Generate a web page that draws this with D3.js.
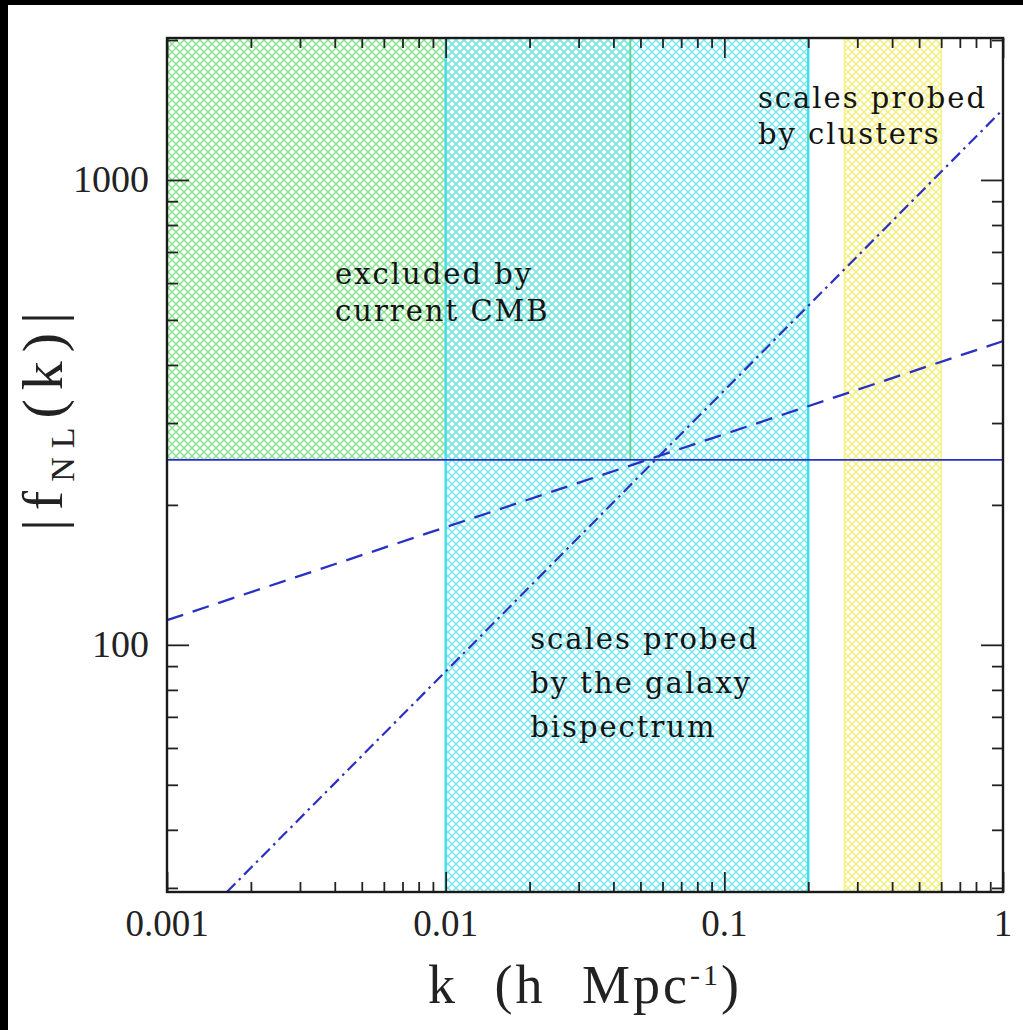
<!DOCTYPE html>
<html>
<head>
<meta charset="utf-8">
<script src="https://cdn.jsdelivr.net/npm/d3@7/dist/d3.min.js"></script>
<style>
  html, body { margin: 0; padding: 0; background: #fff; }
  svg { display: block; }
</style>
</head>
<body>
<svg id="chart" width="1023" height="1030"></svg>
<script>
// ---------------- data ----------------
const xTickValues = [0.001, 0.01, 0.1, 1];
const xTickLabels = ["0.001", "0.01", "0.1", "1"];
const yTickValues = [100, 1000];
const yTickLabels = ["100", "1000"];
const xDomain = [0.001, 1];
const yDomain = [29.4, 2020];

// shaded regions
const regionNames = ["cmb", "galaxy", "clusters"];
const regionKmin = [0.001, 0.01, 0.27];
const regionKmax = [0.046, 0.2, 0.6];
const regionFmin = [250, 29.4, 29.4];
const regionFmax = [2020, 2020, 2020];

// lines (straight in log-log, read as end points)
const lineNames = ["constant", "dashed", "dashdot"];
const lineK = [[0.001, 1], [0.001, 1], [0.00164, 1]];
const lineF = [[250, 250], [113, 450], [29.4, 1418]];

// annotations (first-line anchor in data coordinates)
const annotationLines = [
  ["excluded by", "current CMB"],
  ["scales probed", "by the galaxy", "bispectrum"],
  ["scales probed", "by clusters"]
];
const annotationK = [0.00401, 0.0201, 0.132];
const annotationF = [597, 98, 1428];

// ---------------- layout ----------------
const svg = d3.select("#chart");
const W = 1023, H = 1030;
const m = { left: 167, right: 1003, top: 38, bottom: 892 };

svg.append("rect").attr("width", W).attr("height", H).attr("fill", "#fff");
// dark border strips of the original picture
svg.append("rect").attr("x", 0).attr("y", 0).attr("width", W).attr("height", 5).attr("fill", "#000");
svg.append("rect").attr("x", 0).attr("y", 0).attr("width", 8).attr("height", H).attr("fill", "#000");

const x = d3.scaleLog().domain(xDomain).range([m.left, m.right]);
const y = d3.scaleLog().domain(yDomain).range([m.bottom, m.top]);

// ---------------- hatch patterns ----------------
const defs = svg.append("defs");
const hatchColors = { cmb: "#84e28a", galaxy: "#74e6ee", clusters: "#f3ef74" };
const edgeColors = { cmb: "#5cd78a", galaxy: "#40e0ea", clusters: "#f6f290" };
regionNames.forEach(n => {
  const s = 8;
  const p = defs.append("pattern")
    .attr("id", "hatch-" + n)
    .attr("patternUnits", "userSpaceOnUse")
    .attr("width", s).attr("height", s);
  p.append("path")
    .attr("d", `M0,0L${s},${s}M${s},0L0,${s}M${-s/2},${s/2}L${s/2},${s*1.5}M${s/2},${-s/2}L${s*1.5},${s/2}M${-s/2},${s/2}L${s/2},${-s/2}M${s/2},${s*1.5}L${s*1.5},${s/2}`)
    .attr("stroke", hatchColors[n])
    .attr("stroke-width", 1.4)
    .attr("fill", "none");
});

const gRegions = svg.append("g");
regionNames.forEach((n, i) => {
  const x0 = x(regionKmin[i]), x1 = x(regionKmax[i]);
  const y0 = y(regionFmax[i]), y1 = y(regionFmin[i]);
  gRegions.append("rect")
    .attr("x", x0).attr("y", y0)
    .attr("width", x1 - x0).attr("height", y1 - y0)
    .attr("fill", `url(#hatch-${n})`)
    .attr("stroke", "none");
});
// region edges
regionNames.forEach((n, i) => {
  const x0 = x(regionKmin[i]), x1 = x(regionKmax[i]);
  const y0 = y(regionFmax[i]), y1 = y(regionFmin[i]);
  [x0, x1].forEach(xx => {
    if (xx <= m.left + 1 || xx >= m.right - 1) return;
    gRegions.append("line")
      .attr("x1", xx).attr("x2", xx).attr("y1", y0).attr("y2", y1)
      .attr("stroke", edgeColors[n])
      .attr("stroke-width", n === "galaxy" ? 2.4 : 1.8);
  });
});

// ---------------- lines ----------------
const lineStyles = {
  constant: { dash: null, w: 1.8 },
  dashed: { dash: "17,10", w: 2.3 },
  dashdot: { dash: "12,5,2.5,5", w: 2.2 }
};
const lineGen = d3.line().x(d => x(d[0])).y(d => y(d[1]));
const gLines = svg.append("g");
lineNames.forEach((n, i) => {
  const pts = lineK[i].map((k, j) => [k, lineF[i][j]]);
  const st = lineStyles[n];
  gLines.append("path")
    .attr("d", lineGen(pts))
    .attr("fill", "none")
    .attr("stroke", "#2a30c4")
    .attr("stroke-width", st.w)
    .attr("stroke-dasharray", st.dash);
});

// ---------------- axes (ticks inward on all four sides) ----------------
const xMinor = [];
for (let d = 0.001; d < 1; d *= 10) for (let j = 2; j <= 9; j++) xMinor.push(+(d * j).toPrecision(3));
const yMinor = [];
[10, 100, 1000].forEach(d => { for (let j = 2; j <= 9; j++) { const v = d * j; if (v > yDomain[0] && v < yDomain[1]) yMinor.push(v); } });

const tickColor = "#222";
function addAxis(axisFn, scale, tickVals, size, transform) {
  svg.append("g")
    .attr("transform", transform)
    .call(axisFn(scale).tickValues(tickVals).tickSizeInner(size).tickSizeOuter(0).tickFormat(""))
    .call(g => g.select(".domain").remove())
    .call(g => g.selectAll(".tick line").attr("stroke", tickColor).attr("stroke-width", 1.8));
}
addAxis(d3.axisTop, x, xTickValues, 20, `translate(0,${m.bottom})`);
addAxis(d3.axisTop, x, xMinor, 10, `translate(0,${m.bottom})`);
addAxis(d3.axisBottom, x, xTickValues, 20, `translate(0,${m.top})`);
addAxis(d3.axisBottom, x, xMinor, 10, `translate(0,${m.top})`);
addAxis(d3.axisRight, y, yTickValues, 22, `translate(${m.left},0)`);
addAxis(d3.axisRight, y, yMinor, 11, `translate(${m.left},0)`);
addAxis(d3.axisLeft, y, yTickValues, 22, `translate(${m.right},0)`);
addAxis(d3.axisLeft, y, yMinor, 11, `translate(${m.right},0)`);

// frame
svg.append("rect")
  .attr("x", m.left).attr("y", m.top)
  .attr("width", m.right - m.left).attr("height", m.bottom - m.top)
  .attr("fill", "none").attr("stroke", "#1a1a1a").attr("stroke-width", 2.4);

// tick labels
const labelFont = "'Liberation Serif', 'DejaVu Serif', serif";
svg.append("g").selectAll("text").data(xTickValues).join("text")
  .attr("x", d => x(d)).attr("y", m.bottom + 44)
  .attr("text-anchor", "middle")
  .attr("font-family", labelFont).attr("font-size", 37)
  .attr("fill", "#222")
  .text((d, i) => xTickLabels[i]);
svg.append("g").selectAll("text").data(yTickValues).join("text")
  .attr("x", m.left - 18).attr("y", d => y(d) + 12)
  .attr("text-anchor", "end")
  .attr("font-family", labelFont).attr("font-size", 38)
  .attr("fill", "#222")
  .text((d, i) => yTickLabels[i]);

// axis titles
const titleFont = "'Liberation Serif', serif";
const xt = svg.append("text")
  .attr("x", (m.left + m.right) / 2).attr("y", 1003)
  .attr("text-anchor", "middle")
  .attr("font-family", titleFont).attr("font-size", 54)
  .attr("fill", "#222")
  .style("letter-spacing", "3px")
  .style("word-spacing", "20px");
xt.append("tspan").text("k (h Mpc");
xt.append("tspan").attr("font-size", 30).attr("dy", -18).text("-1");
xt.append("tspan").attr("dy", 18).text(")");

const yt = svg.append("text")
  .attr("transform", `translate(62,417) rotate(-90)`)
  .attr("text-anchor", "middle")
  .attr("font-family", titleFont).attr("font-size", 58)
  .attr("fill", "#222")
  .style("letter-spacing", "9px");
yt.append("tspan").text("|f");
yt.append("tspan").attr("font-size", 34).attr("dy", 12).text("NL");
yt.append("tspan").attr("dy", -12).text("(k)|");

// annotations
const annFont = "'DejaVu Serif', serif";
const annLineGap = [37, 44, 36];
annotationLines.forEach((lines, i) => {
  const t = svg.append("text")
    .attr("x", x(annotationK[i])).attr("y", y(annotationF[i]))
    .attr("font-family", annFont).attr("font-size", 29)
    .attr("fill", "#141414")
    .style("letter-spacing", "2px");
  lines.forEach((s, j) => {
    t.append("tspan").attr("x", x(annotationK[i])).attr("dy", j === 0 ? 0 : annLineGap[i]).text(s);
  });
});
</script>
</body>
</html>
